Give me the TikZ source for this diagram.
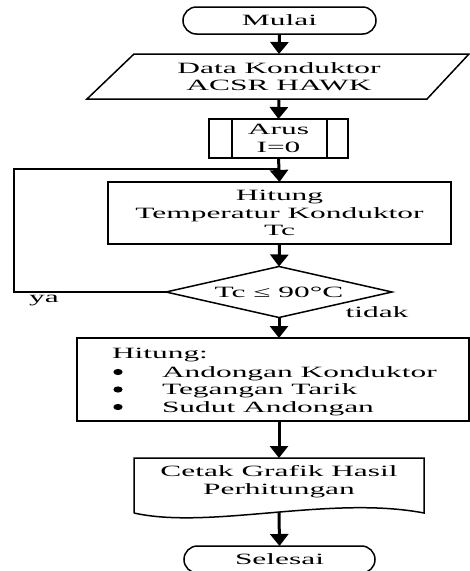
\documentclass[tikz,border=0pt]{standalone}
\usepackage{fontspec}
\setmainfont[FakeStretch=2.0]{Liberation Serif}
\usetikzlibrary{arrows.meta,shapes.misc}
\begin{document}
\begin{tikzpicture}[x=1pt,y=-1pt,
  every node/.style={font=\fontsize{15.7}{17.5}\selectfont, inner sep=0pt, outer sep=0pt},
  shapeline/.style={line width=1.5pt},
  flow/.style={line width=3pt, -{Triangle[width=18pt,length=12pt]}},
  terminal/.style={draw, shapeline, rounded rectangle, minimum height=27pt},
  plainbox/.style={draw, shapeline, align=center},
  bulletdot/.style={fill=black}]
\useasboundingbox (0,0) rectangle (470,571);

% Mulai
\node[terminal, minimum width=193pt] (mulai) at (279.5,20.5) {Mulai};

% Data (parallelogram)
\node[minimum width=240pt, minimum height=45pt, align=center] (data) at (279,76.5) {Data Konduktor\\ACSR HAWK};
\draw[shapeline] (134,54) -- (469,54) -- (427,99) -- (87,99) -- cycle;

% Arus (predefined process)
\node[plainbox, minimum width=139pt, minimum height=39pt] (arus) at (278.5,138.5) {Arus\\I=0};
\draw[shapeline] ([xshift=23pt]arus.north west) -- ([xshift=23pt]arus.south west);
\draw[shapeline] ([xshift=-21pt]arus.north east) -- ([xshift=-21pt]arus.south east);

% Hitung temperatur
\node[plainbox, minimum width=343pt, minimum height=62pt] (hitung) at (279.5,213) {Hitung\\Temperatur Konduktor\\Tc};

% Decision
\node[minimum width=226pt, minimum height=51pt] (dec) at (279,292) {Tc ≤ 90°C};
\draw[shapeline] (dec.north) -- (dec.east) -- (dec.south) -- (dec.west) -- cycle;

% Hasil box
\node[draw, shapeline, minimum width=392pt, minimum height=83pt] (hasil) at (273,379.5) {};
\node[anchor=base west] (h0) at (112,358) {Hitung:};
\node[anchor=base west] (h1) at (162,377) {Andongan Konduktor};
\node[anchor=base west] (h2) at (162,394.5) {Tegangan Tarik};
\node[anchor=base west] (h3) at (162,412) {Sudut Andongan};
\fill[bulletdot] (118,372) ellipse (4.6pt and 3.1pt);
\fill[bulletdot] (118,389.5) ellipse (4.6pt and 3.1pt);
\fill[bulletdot] (118,407) ellipse (4.6pt and 3.1pt);

% Cetak (document)
\node[align=center] (cetak) at (279,481.5) {Cetak Grafik Hasil\\Perhitungan};
\coordinate (cetakTop) at (279,458);
\coordinate (cetakBot) at (279,512);
\draw[shapeline] (134,513) -- (134,458) -- (424,458) -- (424,513)
  .. controls (330,495) and (210,530) .. (134,513);

% Selesai
\node[terminal, minimum width=191pt] (selesai) at (279.5,559.5) {Selesai};

% Labels
\node (ya) at (44,301) {ya};
\node (tidak) at (377,312) {tidak};

% Connectors
\draw[flow] (mulai.south) -- (data.north);
\draw[flow] (data.south) -- (arus.north);
\draw[flow] (arus.south) -- (hitung.north);
\draw[flow] (hitung.south) -- (dec.north);
\draw[flow] (dec.south) -- (dec.south |- hasil.north);
\draw[flow] (hasil.south -| cetakTop) -- (cetakTop);
\draw[flow] (cetakBot) -- (selesai.north);
\coordinate (loopTop) at (14,169);
\draw[shapeline] (dec.west) -| (loopTop) -- (loopTop -| arus.south);
\end{tikzpicture}
\end{document}
